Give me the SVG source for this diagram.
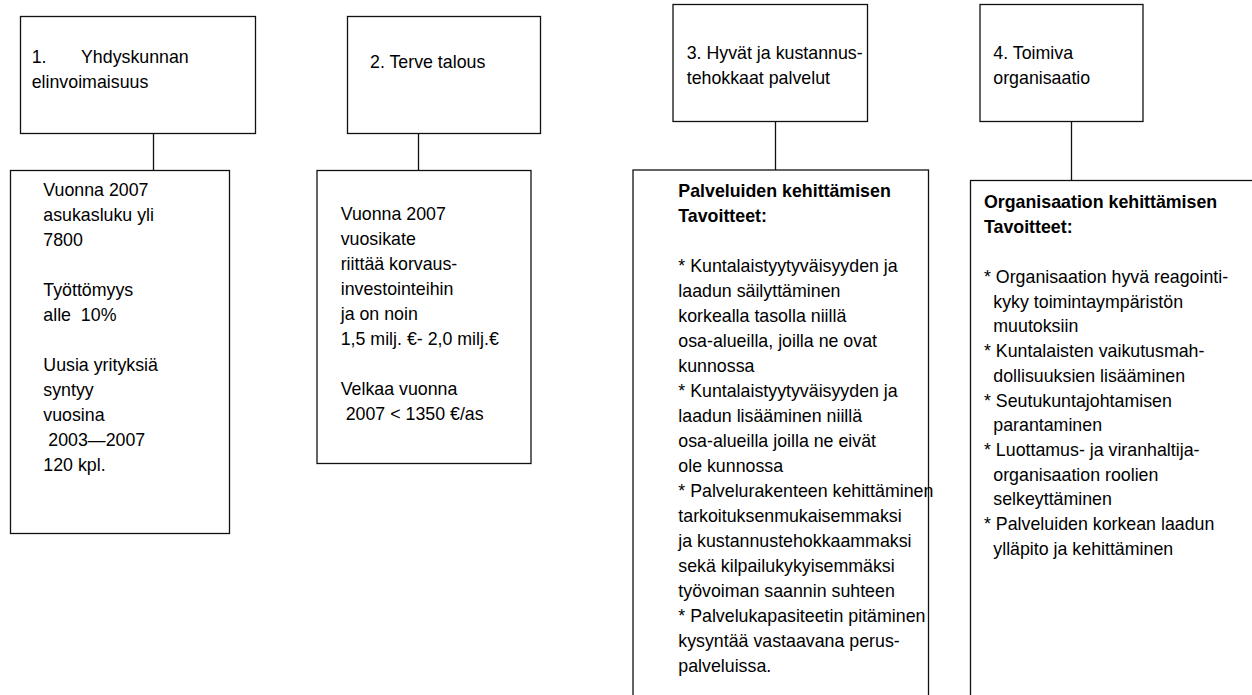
<svg xmlns="http://www.w3.org/2000/svg" width="1252" height="695" viewBox="0 0 1252 695">
<style>
rect{fill:#fff;stroke:#111;stroke-width:1.3}
.c line{stroke:#111;stroke-width:1.3}
text{font-family:"Liberation Sans",Arial,sans-serif;font-size:17.8px;fill:#000}
.b{font-weight:bold}
</style>
<rect x="0" y="0" width="1252" height="695" style="stroke:none"/>
<g class="c" id="connectors">
<line x1="153.5" y1="133.5" x2="153.5" y2="170"/>
<line x1="418.5" y1="133.5" x2="418.5" y2="170"/>
<line x1="775.5" y1="121.5" x2="775.5" y2="170"/>
<line x1="1071.5" y1="121.5" x2="1071.5" y2="180.5"/>
</g>
<g id="goal1">
<rect x="20.5" y="16.5" width="235" height="117"/>
<text y="63"><tspan x="31.7">1.</tspan><tspan x="81">Yhdyskunnan</tspan></text>
<text x="31.7" y="88">elinvoimaisuus</text>
</g>
<g id="target1">
<rect x="10.5" y="170.5" width="219" height="363"/>
<text x="43.3" y="196">Vuonna 2007</text>
<text x="43.3" y="221">asukasluku yli</text>
<text x="43.3" y="246">7800</text>
<text x="43.3" y="296">Työttömyys</text>
<text x="43.3" y="321" xml:space="preserve">alle  10%</text>
<text x="43.3" y="371">Uusia yrityksiä</text>
<text x="43.3" y="396">syntyy</text>
<text x="43.3" y="421">vuosina</text>
<text x="48.3" y="446">2003—2007</text>
<text x="43.3" y="471">120 kpl.</text>
</g>
<g id="goal2">
<rect x="347.5" y="16.5" width="193" height="117"/>
<text x="370" y="68.3">2. Terve talous</text>
</g>
<g id="target2">
<rect x="317" y="170.5" width="214" height="293"/>
<text x="340.7" y="220">Vuonna 2007</text>
<text x="340.7" y="245">vuosikate</text>
<text x="340.7" y="270">riittää korvaus-</text>
<text x="340.7" y="295">investointeihin</text>
<text x="340.7" y="320">ja on noin</text>
<text x="340.7" y="345">1,5 milj. €- 2,0 milj.€</text>
<text x="340.7" y="395">Velkaa vuonna</text>
<text x="345.7" y="420">2007 &lt; 1350 €/as</text>
</g>
<g id="goal3">
<rect x="673" y="4.5" width="194.5" height="117"/>
<text x="686.7" y="58.5">3. Hyvät ja kustannus-</text>
<text x="686.7" y="83.5">tehokkaat palvelut</text>
</g>
<g id="target3">
<rect x="633" y="170" width="295.5" height="540"/>
<text class="b" x="678.3" y="197">Palveluiden kehittämisen</text>
<text class="b" x="678.3" y="222">Tavoitteet:</text>
<text x="678.3" y="272">* Kuntalaistyytyväisyyden ja</text>
<text x="678.3" y="297">laadun säilyttäminen</text>
<text x="678.3" y="322">korkealla tasolla niillä</text>
<text x="678.3" y="347">osa-alueilla, joilla ne ovat</text>
<text x="678.3" y="372">kunnossa</text>
<text x="678.3" y="397">* Kuntalaistyytyväisyyden ja</text>
<text x="678.3" y="422">laadun lisääminen niillä</text>
<text x="678.3" y="447">osa-alueilla joilla ne eivät</text>
<text x="678.3" y="472">ole kunnossa</text>
<text x="678.3" y="497">* Palvelurakenteen kehittäminen</text>
<text x="678.3" y="522">tarkoituksenmukaisemmaksi</text>
<text x="678.3" y="547">ja kustannustehokkaammaksi</text>
<text x="678.3" y="572">sekä kilpailukykyisemmäksi</text>
<text x="678.3" y="597">työvoiman saannin suhteen</text>
<text x="678.3" y="622">* Palvelukapasiteetin pitäminen</text>
<text x="678.3" y="647">kysyntää vastaavana perus-</text>
<text x="678.3" y="672">palveluissa.</text>
</g>
<g id="goal4">
<rect x="980" y="4.5" width="163" height="117"/>
<text x="993.3" y="59">4. Toimiva</text>
<text x="993.3" y="83.5">organisaatio</text>
</g>
<g id="target4">
<rect x="970.5" y="180.5" width="300" height="530"/>
<text class="b" x="984" y="208">Organisaation kehittämisen</text>
<text class="b" x="984" y="233">Tavoitteet:</text>
<text x="984" y="283">* Organisaation hyvä reagointi-</text>
<text x="993.3" y="307.7">kyky toimintaympäristön</text>
<text x="993.3" y="332.4">muutoksiin</text>
<text x="984" y="357.1">* Kuntalaisten vaikutusmah-</text>
<text x="993.3" y="381.8">dollisuuksien lisääminen</text>
<text x="984" y="406.5">* Seutukuntajohtamisen</text>
<text x="993.3" y="431.2">parantaminen</text>
<text x="984" y="455.9">* Luottamus- ja viranhaltija-</text>
<text x="993.3" y="480.6">organisaation roolien</text>
<text x="993.3" y="505.3">selkeyttäminen</text>
<text x="984" y="530">* Palveluiden korkean laadun</text>
<text x="993.3" y="554.7">ylläpito ja kehittäminen</text>
</g>
</svg>
